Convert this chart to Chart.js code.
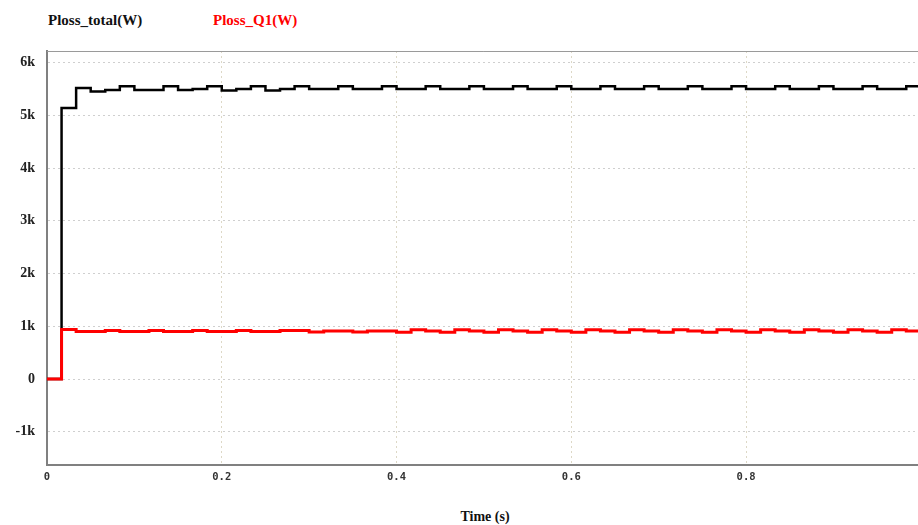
<!DOCTYPE html>
<html>
<head>
<meta charset="utf-8">
<script src="https://cdn.jsdelivr.net/npm/chart.js@4.4.0/dist/chart.umd.min.js"></script>
<style>
  html, body { margin: 0; padding: 0; background: #fff; overflow: hidden; width: 918px; height: 525px; }
  #lienzo { position: absolute; left: 0; top: 0; }
  .leyenda { position: absolute; top: 12px; font: bold 15px "Liberation Serif", "Times New Roman", serif; white-space: nowrap; }
  #tituloX { position: absolute; top: 509px; left: 435px; width: 100px; text-align: center;
             font: bold 14px "Liberation Serif", "Times New Roman", serif; color: #111; }
</style>
</head>
<body>
<div class="leyenda" style="left:48px; color:#111;">Ploss_total(W)</div>
<div class="leyenda" style="left:213px; color:#ff0000;">Ploss_Q1(W)</div>
<canvas id="lienzo" width="930" height="490"></canvas>
<div id="tituloX">Time (s)</div>
<script>
// muestreo del simulador: un valor cada 1/60 s
const pasoTiempo = 1 / 60;

// Ploss_total(W), un valor por intervalo
const plossTotal = [
  0, 5140, 5520, 5450, 5480, 5550, 5480, 5480, 5550, 5480,
  5500, 5550, 5470, 5500, 5550, 5470, 5500, 5550, 5500, 5500,
  5550, 5500, 5500, 5550, 5500, 5500, 5550, 5500, 5500, 5550,
  5500, 5500, 5550, 5500, 5500, 5550, 5500, 5500, 5550, 5500,
  5500, 5550, 5500, 5500, 5550, 5500, 5500, 5550, 5500, 5500,
  5550, 5500, 5500, 5550, 5500, 5500, 5550, 5500, 5500, 5550
];

// Ploss_Q1(W)
const plossQ1 = [
  0, 940, 900, 900, 920, 900, 900, 920, 900, 900,
  920, 900, 900, 920, 900, 900, 920, 920, 890, 910,
  910, 890, 910, 910, 885, 935, 910, 885, 935, 910,
  885, 935, 910, 885, 935, 910, 885, 935, 910, 885,
  935, 910, 885, 935, 910, 885, 935, 910, 885, 935,
  910, 885, 935, 910, 885, 935, 910, 885, 935, 910
];

const ticksY = [-1000, 0, 1000, 2000, 3000, 4000, 5000, 6000];
const ticksX = [0, 0.2, 0.4, 0.6, 0.8, 1];

const aPuntos = (valores) => {
  const puntos = valores.map((v, i) => ({ x: i * pasoTiempo, y: v }));
  puntos.push({ x: valores.length * pasoTiempo, y: valores[valores.length - 1] });
  return puntos;
};

const marcoSuperior = {
  id: 'marcoSuperior',
  beforeDatasetsDraw(chart) {
    const { ctx, chartArea } = chart;
    ctx.save();
    ctx.strokeStyle = '#9a9a9a';
    ctx.lineWidth = 1;
    ctx.beginPath();
    ctx.moveTo(chartArea.left, chartArea.top + 0.5);
    ctx.lineTo(chartArea.right, chartArea.top + 0.5);
    ctx.stroke();
    ctx.restore();
  }
};

const ctx = document.getElementById('lienzo').getContext('2d');

new Chart(ctx, {
  type: 'line',
  data: {
    datasets: [
      {
        label: 'Ploss_total(W)',
        data: aPuntos(plossTotal),
        borderColor: '#000000',
        borderWidth: 2.5,
        stepped: 'before',
        pointRadius: 0,
        order: 2
      },
      {
        label: 'Ploss_Q1(W)',
        data: aPuntos(plossQ1),
        borderColor: '#ff0000',
        borderWidth: 3,
        stepped: 'before',
        pointRadius: 0,
        order: 1
      }
    ]
  },
  options: {
    responsive: false,
    animation: false,
    devicePixelRatio: 1,
    layout: { padding: { top: 51, right: 8, left: 0, bottom: 0 } },
    plugins: { legend: { display: false }, tooltip: { enabled: false } },
    scales: {
      x: {
        type: 'linear',
        min: 0,
        max: 1,
        afterFit: (escala) => { escala.height = 25; },
        afterBuildTicks: (escala) => { escala.ticks = ticksX.map(v => ({ value: v })); },
        ticks: {
          padding: 6,
          maxRotation: 0,
          color: '#333',
          font: { family: '"DejaVu Sans Mono", monospace', size: 10.5, weight: 'bold' },
          callback: (v) => String(Math.round(v * 10) / 10)
        },
        grid: { color: '#ddd8c6', drawTicks: false, lineWidth: 1 },
        border: { display: true, color: '#808080', width: 2, dash: [2, 3] }
      },
      y: {
        min: -1630,
        max: 6220,
        afterFit: (escala) => { escala.width = 47; },
        afterBuildTicks: (escala) => { escala.ticks = ticksY.map(v => ({ value: v })); },
        ticks: {
          padding: 12,
          color: '#222',
          font: { family: '"Liberation Serif", "Times New Roman", serif', size: 14, weight: 'bold' },
          callback: (v) => v === 0 ? '0' : (v / 1000) + 'k'
        },
        grid: { color: '#cfcfcf', drawTicks: false, lineWidth: 1 },
        border: { display: true, color: '#808080', width: 2, dash: [2, 3] }
      }
    }
  },
  plugins: [marcoSuperior]
});
</script>
</body>
</html>
